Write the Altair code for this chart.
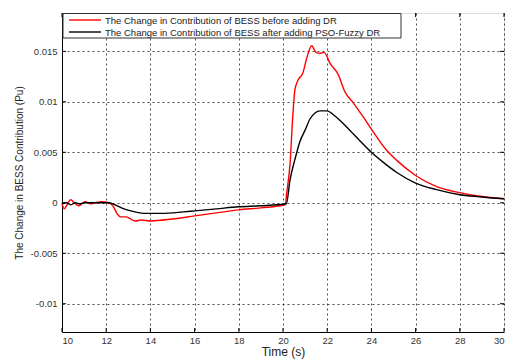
import altair as alt
import pandas as pd

# Red series: before adding DR
t_red = [10.0, 10.1, 10.2, 10.4, 10.55, 10.75, 10.9, 11.05, 11.3, 11.5, 11.8, 12.1, 12.3, 12.5,
         12.65, 12.9, 13.1, 13.3, 13.6, 14.0, 15.0, 16.0, 17.0, 18.0, 19.0, 20.1, 20.17, 20.32,
         20.44, 20.54, 20.69, 20.89, 21.07, 21.3, 21.49, 21.67, 21.86, 22.13, 22.5, 22.8, 23.18,
         23.63, 24.0, 24.69, 25.15, 26.0, 26.95, 28.0, 28.9, 30.0]
v_red = [0.0, -0.0006, -0.0003, 0.0003, 0.0, -0.0003, -0.0001, 0.0001, -0.0001, 0.0, 0.0001, 0.0,
         -0.0003, -0.0011, -0.0014, -0.0014, -0.0016, -0.0018, -0.0017, -0.0018, -0.0016, -0.0013,
         -0.001, -0.0007, -0.0005, -0.0002, 0.001, 0.0039, 0.0085, 0.0112, 0.0122, 0.0128, 0.0143,
         0.01555, 0.0149, 0.0148, 0.0149, 0.0138, 0.0127, 0.011, 0.0099, 0.0085, 0.0073, 0.0052,
         0.0042, 0.0027, 0.0016, 0.001, 0.00065, 0.0004]

# Black series: after adding PSO-Fuzzy DR
t_blk = [10.0, 10.2, 10.4, 10.6, 10.8, 11.0, 11.5, 11.8, 12.1, 12.4, 12.8, 13.3, 13.8, 14.5, 15.5,
         16.0, 17.0, 18.0, 19.0, 20.15, 20.32, 20.54, 20.77, 21.0, 21.22, 21.45, 21.67, 21.98,
         22.35, 22.7, 23.1, 23.5, 24.0, 24.54, 25.15, 26.0, 26.95, 28.0, 28.9, 30.0]
v_blk = [-0.0001, 0.0, -0.0002, 0.0, -0.0001, 0.0, 0.0, 0.0, 0.0, -0.0002, -0.0006, -0.0009,
         -0.00105, -0.00105, -0.0009, -0.0008, -0.0006, -0.0004, -0.0003, -0.0001, 0.0023, 0.0043,
         0.0061, 0.0072, 0.0083, 0.0089, 0.0091, 0.0091, 0.0086, 0.0079, 0.0070, 0.0061, 0.005,
         0.004, 0.003, 0.00195, 0.0013, 0.0008, 0.0006, 0.0004]

series_names = ["The Change in Contribution of BESS before adding DR",
                "The Change in Contribution of BESS after adding PSO-Fuzzy DR"]
series_colors = ["#ff0000", "#000000"]

x_ticks = [10, 12, 14, 16, 18, 20, 22, 24, 26, 28, 30]
y_ticks = [-0.01, -0.005, 0, 0.005, 0.01, 0.015]

df = pd.concat([
    pd.DataFrame({"t": t_red, "v": v_red, "s": series_names[0], "o": 0}),
    pd.DataFrame({"t": t_blk, "v": v_blk, "s": series_names[1], "o": 1}),
])
xt = pd.DataFrame({"t": x_ticks})
yt = pd.DataFrame({"v": y_ticks})
one = pd.DataFrame({"k": [0]})

FONT = "Liberation Sans"
W, H = 442, 319

xscale = alt.Scale(domain=[10, 30], nice=False, zero=False)
yscale = alt.Scale(domain=[-0.0128, 0.0188], nice=False, zero=False)

lines = alt.Chart(df).mark_line(strokeWidth=1.4, interpolate="monotone").encode(
    x=alt.X("t:Q", title="Time (s)", scale=xscale,
            axis=alt.Axis(values=x_ticks, format="d", labelFontSize=9.5, labelColor="#333",
                          titleFontSize=12, titleFontWeight="normal", titleColor="#222",
                          titlePadding=2, labelPadding=3, ticks=False,
                          domainColor="#000", grid=True, gridColor="#000",
                          gridDash=[2, 3], gridOpacity=0.7)),
    y=alt.Y("v:Q", title="The Change in BESS Contribution (Pu)", scale=yscale,
            axis=alt.Axis(values=y_ticks,
                          labelExpr="replace(format(datum.value, '.3~f'), '\u2212', '-')",
                          labelFontSize=9.5, labelColor="#333",
                          titleFontSize=10, titleFontWeight="normal", titleColor="#222",
                          titlePadding=6, labelPadding=5, ticks=False,
                          domainColor="#000", grid=True, gridColor="#000",
                          gridDash=[2, 3], gridOpacity=0.7)),
    color=alt.Color("s:N", scale=alt.Scale(domain=series_names, range=series_colors),
                    legend=None),
    order="o:Q",
)

# inward ticks on all four sides
xtick_b = alt.Chart(xt).mark_rule(color="#000", strokeWidth=1).encode(
    x="t:Q", y=alt.value(H), y2=alt.value(H - 4))
xtick_t = alt.Chart(xt).mark_rule(color="#000", strokeWidth=1).encode(
    x="t:Q", y=alt.value(0), y2=alt.value(4))
ytick_l = alt.Chart(yt).mark_rule(color="#000", strokeWidth=1).encode(
    y="v:Q", x=alt.value(0), x2=alt.value(4))
ytick_r = alt.Chart(yt).mark_rule(color="#000", strokeWidth=1).encode(
    y="v:Q", x=alt.value(W), x2=alt.value(W - 4))

# legend box (top-left, inside the plot)
leg_box = alt.Chart(one).mark_rect(fill="white", stroke="#333", strokeWidth=1).encode(
    x=alt.value(1), x2=alt.value(339), y=alt.value(0.5), y2=alt.value(25))
leg_items = []
for i, (name, col) in enumerate(zip(series_names, series_colors)):
    yy = 7 + 12 * i
    leg_items.append(alt.Chart(one).mark_rule(color=col, strokeWidth=1.4).encode(
        x=alt.value(7), x2=alt.value(39), y=alt.value(yy)))
    leg_items.append(alt.Chart(one).mark_text(
        align="left", baseline="middle", fontSize=9.5, font=FONT, color="#222").encode(
        x=alt.value(43), y=alt.value(yy + 0.5), text=alt.value(name)))

chart = alt.layer(
    lines, xtick_b, xtick_t, ytick_l, ytick_r, leg_box, *leg_items
).properties(
    width=W, height=H,
    autosize=alt.AutoSizeParams(type="none"),
    padding={"left": 62, "top": 13, "right": 6, "bottom": 28},
).configure_view(
    stroke="#000", strokeWidth=1
).configure(
    font=FONT, background="white"
)

chart.save("out.html", embed_options={"renderer": "svg", "actions": False})
